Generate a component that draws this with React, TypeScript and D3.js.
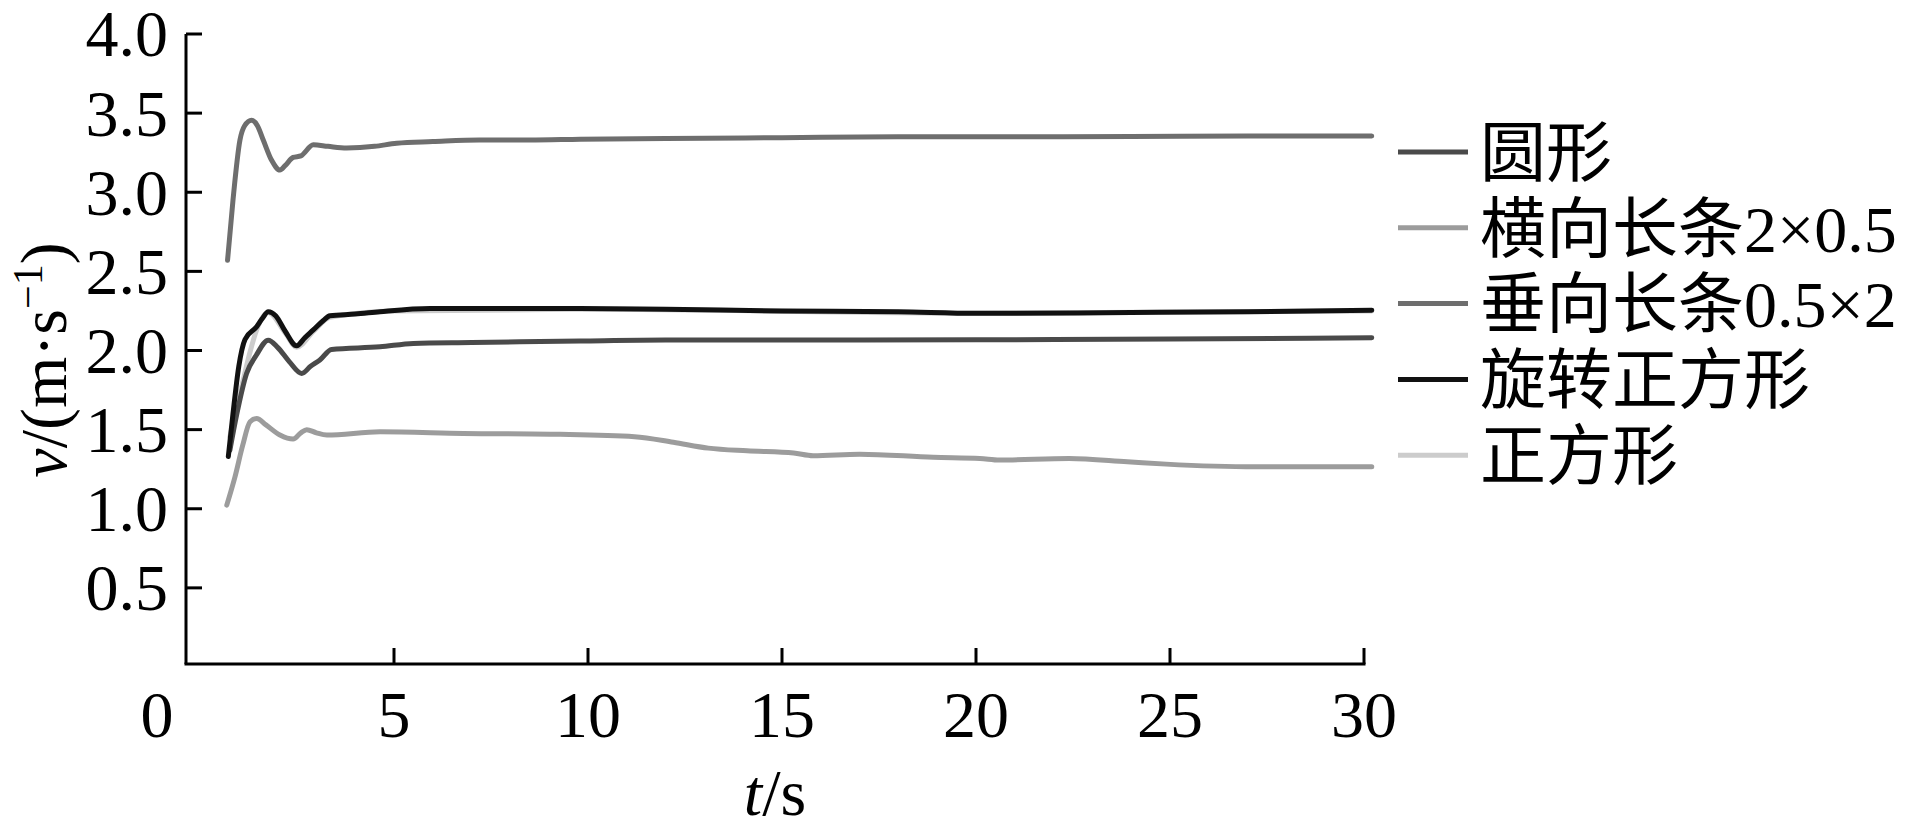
import React from 'react';
import * as d3 from 'd3';

// t (s), v (m/s)
const vertical = [ // 垂向长条0.5×2
  [0.71, 2.57], [0.85, 2.95], [1.03, 3.33], [1.15, 3.42], [1.33, 3.455], [1.48, 3.42],
  [1.63, 3.33], [1.85, 3.2], [2.06, 3.14], [2.2, 3.17], [2.4, 3.22], [2.6, 3.23],
  [2.92, 3.3], [3.3, 3.29], [3.78, 3.28], [4.5, 3.29], [5.07, 3.31], [6, 3.32],
  [7.2, 3.33], [8.5, 3.33], [9.8, 3.335], [12, 3.34], [15, 3.345], [18, 3.35],
  [20, 3.35], [24, 3.352], [27, 3.355], [30.2, 3.356],
];
const rotated = [ // 旋转正方形
  [0.73, 1.33], [0.85, 1.6], [1.0, 1.9], [1.16, 2.07], [1.46, 2.15], [1.6, 2.2],
  [1.76, 2.245], [1.95, 2.22], [2.2, 2.12], [2.49, 2.03], [2.7, 2.08], [2.92, 2.13],
  [3.18, 2.19], [3.35, 2.22], [4.0, 2.23], [4.64, 2.245], [5.93, 2.265], [8, 2.265],
  [9.8, 2.265], [12, 2.26], [15, 2.25], [18, 2.245], [20, 2.235], [24, 2.24],
  [27, 2.245], [30.2, 2.255],
];
const circle = [ // 圆形
  [0.77, 1.37], [0.95, 1.6], [1.2, 1.855], [1.45, 1.97], [1.76, 2.065], [2.0, 2.02],
  [2.3, 1.93], [2.62, 1.855], [2.85, 1.9], [3.09, 1.94], [3.39, 2.007], [4.64, 2.023],
  [5.5, 2.045], [7, 2.05], [9.8, 2.06], [12, 2.066], [15, 2.066], [20, 2.068],
  [25, 2.072], [30.2, 2.08],
];
const horizontal = [ // 横向长条2×0.5
  [0.69, 1.023], [0.9, 1.2], [1.1, 1.4], [1.29, 1.55], [1.46, 1.57], [1.7, 1.53],
  [2.06, 1.466], [2.4, 1.44], [2.6, 1.48], [2.75, 1.5], [3.0, 1.48], [3.27, 1.466],
  [4.64, 1.486], [6.79, 1.476], [9.28, 1.47], [11.2, 1.455], [12.2, 1.42], [13.1, 1.383],
  [14.1, 1.366], [15.3, 1.352], [15.8, 1.335], [17, 1.345], [18.9, 1.325], [20.1, 1.318],
  [20.6, 1.308], [22.4, 1.318], [23.9, 1.297], [24.9, 1.282], [27.2, 1.265], [30.2, 1.265],
];
const square = [ // 正方形
  [0.77, 1.455], [0.95, 1.65], [1.11, 1.81], [1.3, 2.0], [1.46, 2.13], [1.76, 2.24],
  [2.2, 2.11], [2.49, 2.02], [2.92, 2.12], [3.35, 2.21], [5, 2.25], [10, 2.26],
  [20, 2.235], [30.2, 2.25],
];

// legend labels split into the Chinese part and the Latin part
const legendHan = ['圆形', '横向长条', '垂向长条', '旋转正方形', '正方形'];
const legendLatin = ['', '2×0.5', '0.5×2', '', ''];
const legendColors = ['#4a4a4a', '#9c9c9c', '#6e6e6e', '#111111', '#cccccc'];
const xTicks = [5, 10, 15, 20, 25, 30];
const yTicks = [0.5, 1.0, 1.5, 2.0, 2.5, 3.0, 3.5, 4.0];

const W = 1923, H = 833;
const serif = '"Liberation Serif", "Times New Roman", serif';
const han = '"Noto Sans CJK SC", sans-serif';

export default function App() {
  const x = d3.scaleLinear().domain([0, 30]).range([200, 1364]);
  const y = d3.scaleLinear().domain([0, 4]).range([667, 34]);
  const axisX0 = 186;
  const axisY0 = 664;

  const line = d3.line<number[]>()
    .x(d => x(d[0]))
    .y(d => y(d[1]))
    .curve(d3.curveMonotoneX);

  // drawing order: the light square line sits under the black one
  const series = [
    { data: square, color: legendColors[4] },
    { data: horizontal, color: legendColors[1] },
    { data: circle, color: legendColors[0] },
    { data: vertical, color: legendColors[2] },
    { data: rotated, color: legendColors[3] },
  ];

  return (
    <svg width={W} height={H} style={{ position: 'absolute', left: 0, top: 0, background: '#fff' }}
      fontFamily={serif}>
      {series.map((s, i) => (
        <path key={i} d={line(s.data) || ''} fill="none" stroke={s.color} strokeWidth={5}
          strokeLinejoin="round" strokeLinecap="round" />
      ))}

      {/* y axis */}
      <line x1={axisX0} x2={axisX0} y1={y(4)} y2={axisY0} stroke="#000" strokeWidth={3} />
      {yTicks.map(t => (
        <g key={t}>
          <line x1={axisX0} x2={axisX0 + 16} y1={y(t)} y2={y(t)} stroke="#000" strokeWidth={3} />
          <text x={168} y={y(t)} dy="0.34em" textAnchor="end" fontSize={66}>{t.toFixed(1)}</text>
        </g>
      ))}

      {/* x axis */}
      <line x1={axisX0 - 1.5} x2={x(30) + 1.5} y1={axisY0} y2={axisY0} stroke="#000" strokeWidth={3} />
      {xTicks.map(t => (
        <g key={t}>
          <line x1={x(t)} x2={x(t)} y1={axisY0} y2={axisY0 - 16} stroke="#000" strokeWidth={3} />
          <text x={x(t)} y={737} textAnchor="middle" fontSize={66}>{t}</text>
        </g>
      ))}
      <text x={x(0) - 43} y={737} textAnchor="middle" fontSize={66}>0</text>

      {/* axis titles */}
      <text x={(axisX0 + x(30)) / 2} y={815} textAnchor="middle" fontSize={66}>
        <tspan fontStyle="italic">t</tspan>/s
      </text>
      <text transform={`translate(66,${360}) rotate(-90)`} textAnchor="middle" fontSize={66}>
        <tspan fontStyle="italic">v</tspan>/(m·s<tspan dy={-24} fontSize={42}>−1</tspan><tspan dy={24}>)</tspan>
      </text>

      {/* legend */}
      {legendHan.map((name, i) => {
        const ly = 152 + i * 75.8;
        return (
          <g key={name}>
            <line x1={1398} x2={1468} y1={ly} y2={ly} stroke={legendColors[i]} strokeWidth={5} />
            <text x={1480} y={ly} dy="0.36em" fontSize={66}>
              <tspan fontFamily={han}>{name}</tspan>
              {legendLatin[i] && <tspan fontFamily={serif}>{legendLatin[i]}</tspan>}
            </text>
          </g>
        );
      })}
    </svg>
  );
}
